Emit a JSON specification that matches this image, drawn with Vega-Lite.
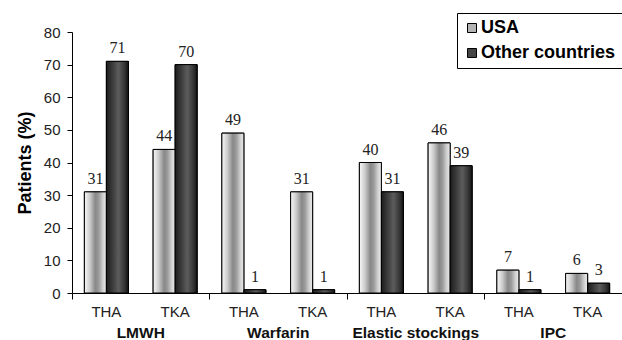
{
  "$schema": "https://vega.github.io/schema/vega-lite/v6.json",
  "width": 550,
  "height": 261,
  "autosize": {"type": "none"},
  "padding": {"left": 72, "top": 32, "right": 0, "bottom": 47},
  "background": "white",
  "config": {"font": "Liberation Sans", "view": {"stroke": null}, "axis": {"grid": false}},
  "data": {
    "values": [
      {"group": "LMWH", "sub": "THA", "key": "LMWH|THA", "series": "USA", "value": 31},
      {"group": "LMWH", "sub": "THA", "key": "LMWH|THA", "series": "Other countries", "value": 71},
      {"group": "LMWH", "sub": "TKA", "key": "LMWH|TKA", "series": "USA", "value": 44},
      {"group": "LMWH", "sub": "TKA", "key": "LMWH|TKA", "series": "Other countries", "value": 70},
      {"group": "Warfarin", "sub": "THA", "key": "Warfarin|THA", "series": "USA", "value": 49},
      {"group": "Warfarin", "sub": "THA", "key": "Warfarin|THA", "series": "Other countries", "value": 1},
      {"group": "Warfarin", "sub": "TKA", "key": "Warfarin|TKA", "series": "USA", "value": 31},
      {"group": "Warfarin", "sub": "TKA", "key": "Warfarin|TKA", "series": "Other countries", "value": 1},
      {"group": "Elastic stockings", "sub": "THA", "key": "Elastic stockings|THA", "series": "USA", "value": 40},
      {"group": "Elastic stockings", "sub": "THA", "key": "Elastic stockings|THA", "series": "Other countries", "value": 31},
      {"group": "Elastic stockings", "sub": "TKA", "key": "Elastic stockings|TKA", "series": "USA", "value": 46},
      {"group": "Elastic stockings", "sub": "TKA", "key": "Elastic stockings|TKA", "series": "Other countries", "value": 39},
      {"group": "IPC", "sub": "THA", "key": "IPC|THA", "series": "USA", "value": 7},
      {"group": "IPC", "sub": "THA", "key": "IPC|THA", "series": "Other countries", "value": 1},
      {"group": "IPC", "sub": "TKA", "key": "IPC|TKA", "series": "USA", "value": 6},
      {"group": "IPC", "sub": "TKA", "key": "IPC|TKA", "series": "Other countries", "value": 3}
    ]
  },
  "layer": [
    {
      "layer": [
        {
          "mark": {"type": "bar", "stroke": "black", "strokeWidth": 1},
          "encoding": {
            "color": {
              "field": "series",
              "type": "nominal",
              "scale": {"domain": ["USA", "Other countries"], "range": ["#b4b4b4", "#444444"]},
              "legend": {
                "title": null,
                "orient": "none",
                "legendX": 385,
                "legendY": -19,
                "padding": 6,
                "fillColor": "white",
                "strokeColor": "black",
                "symbolType": "square",
                "symbolSize": 81,
                "symbolStrokeColor": "black",
                "symbolStrokeWidth": 1,
                "symbolOpacity": 1,
                "labelFontSize": 18,
                "labelFontWeight": "bold",
                "labelColor": "black",
                "labelOffset": 0,
                "rowPadding": 7
              }
            }
          }
        },
        {
          "transform": [{"filter": "datum.series === 'USA'"}],
          "mark": {
            "type": "bar",
            "stroke": "black",
            "strokeWidth": 1,
            "fill": {
              "gradient": "linear", "x1": 0, "x2": 1, "y1": 0, "y2": 0,
              "stops": [
                {"offset": 0, "color": "#f8f8f8"},
                {"offset": 0.25, "color": "#cccccc"},
                {"offset": 0.5, "color": "#888888"},
                {"offset": 0.65, "color": "#9a9a9a"},
                {"offset": 0.85, "color": "#d2d2d2"},
                {"offset": 1, "color": "#ececec"}
              ]
            }
          }
        },
        {
          "transform": [{"filter": "datum.series !== 'USA'"}],
          "mark": {
            "type": "bar",
            "stroke": "black",
            "strokeWidth": 1,
            "fill": {
              "gradient": "linear", "x1": 0, "x2": 1, "y1": 0, "y2": 0,
              "stops": [
                {"offset": 0, "color": "#1c1c1c"},
                {"offset": 0.3, "color": "#3e3e3e"},
                {"offset": 0.55, "color": "#5c5c5c"},
                {"offset": 0.8, "color": "#3a3a3a"},
                {"offset": 1, "color": "#141414"}
              ]
            }
          }
        },
        {
          "mark": {"type": "text", "baseline": "bottom", "dy": -5, "font": "Liberation Serif", "fontSize": 16, "color": "#222222"},
          "encoding": {"text": {"field": "value", "type": "quantitative"}}
        }
      ],
      "encoding": {
        "x": {
          "field": "key",
          "type": "nominal",
          "scale": {
            "type": "band",
            "domain": ["LMWH|THA", "LMWH|TKA", "Warfarin|THA", "Warfarin|TKA", "Elastic stockings|THA", "Elastic stockings|TKA", "IPC|THA", "IPC|TKA"],
            "paddingInner": 0.36,
            "paddingOuter": 0.18
          },
          "axis": {
            "orient": "bottom",
            "title": null,
            "ticks": false,
            "tickSize": 0,
            "labelExpr": "split(datum.value, '|')[1]",
            "labelFontSize": 15,
            "labelColor": "#222222",
            "labelPadding": 11,
            "labelAngle": 0,
            "domainColor": "black",
            "domainWidth": 1
          }
        },
        "xOffset": {
          "field": "series",
          "type": "nominal",
          "scale": {"domain": ["USA", "Other countries"], "paddingInner": 0, "paddingOuter": 0}
        },
        "y": {
          "field": "value",
          "type": "quantitative",
          "scale": {"domain": [0, 80], "nice": false},
          "axis": {
            "title": "Patients (%)",
            "titleFontSize": 18,
            "titleFontWeight": "bold",
            "titleColor": "black",
            "titlePadding": 9,
            "values": [0, 10, 20, 30, 40, 50, 60, 70, 80],
            "labelFontSize": 15,
            "labelColor": "#222222",
            "labelPadding": 7,
            "tickSize": 5,
            "tickColor": "black",
            "domainColor": "black"
          }
        }
      }
    },
    {
      "mark": {"type": "rule", "opacity": 0},
      "encoding": {
        "x": {
          "field": "group",
          "type": "nominal",
          "scale": {"type": "band", "domain": ["LMWH", "Warfarin", "Elastic stockings", "IPC"], "paddingInner": 0, "paddingOuter": 0},
          "axis": {"orient": "bottom", "title": null, "labels": false, "domain": false, "ticks": true, "tickSize": 6, "tickColor": "black", "bandPosition": 0}
        }
      }
    },
    {
      "mark": {"type": "rule", "opacity": 0},
      "encoding": {
        "x": {
          "field": "group",
          "type": "nominal",
          "scale": {"type": "band", "domain": ["LMWH", "Warfarin", "Elastic stockings", "IPC"], "paddingInner": 0, "paddingOuter": 0},
          "axis": {"orient": "bottom", "title": null, "ticks": false, "tickSize": 0, "domain": false, "labelFontSize": 15.5, "labelFontWeight": "bold", "labelColor": "#111111", "labelPadding": 32, "labelAngle": 0}
        }
      }
    }
  ],
  "resolve": {"scale": {"x": "independent"}, "axis": {"x": "independent"}}
}
